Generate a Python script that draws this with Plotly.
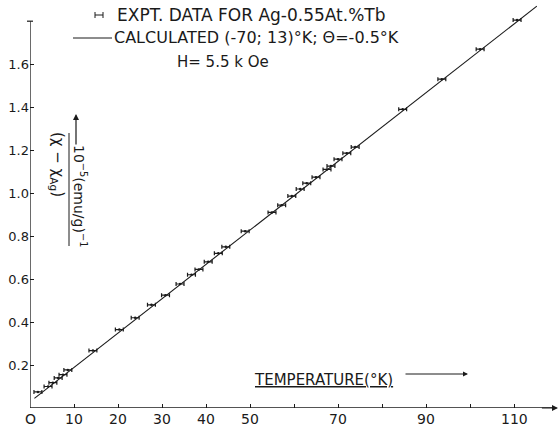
import plotly.graph_objects as go

# ---- data ----
expt_T = [1.8, 4.1, 5.2, 6.4, 7.5, 8.6, 14.3, 20.3, 23.9, 27.6, 30.8, 34.1, 36.7,
          38.4, 40.5, 42.8, 44.5, 48.9, 55.0, 57.2, 59.5, 61.4, 62.9, 65.0, 67.5,
          68.4, 70.0, 72.0, 73.9, 84.7, 93.6, 102.3, 110.7]
expt_v = [0.075, 0.10, 0.118, 0.14, 0.155, 0.177, 0.267, 0.365, 0.42, 0.48, 0.525,
          0.577, 0.62, 0.645, 0.68, 0.72, 0.75, 0.823, 0.91, 0.944, 0.986, 1.019,
          1.046, 1.074, 1.11, 1.126, 1.158, 1.186, 1.214, 1.39, 1.53, 1.67, 1.805]
expt_err = [0.9] * len(expt_T)

calc_T = [1.0, 20.0, 40.0, 60.0, 80.0, 100.0, 115.2]
calc_v = [0.045, 0.349, 0.669, 0.989, 1.309, 1.629, 1.87]

x_tickvals = [0, 10, 20, 30, 40, 50, 60, 70, 80, 90, 100, 110]
x_ticktext = ["O", "10", "20", "30", "40", "50", "", "70", "", "90", "", "110"]
y_tickvals = [0.2, 0.4, 0.6, 0.8, 1.0, 1.2, 1.4, 1.6]
y_ticktext = ["0.2", "0.4", "0.6", "0.8", "1.0", "1.2", "1.4", "1.6"]

legend_expt = "EXPT. DATA FOR Ag-0.55At.%Tb"
legend_calc = "CALCULATED (-70; 13)°K; Θ=-0.5°K"
field_text = "H= 5.5 k Oe"
x_title = "<u>TEMPERATURE(°K)</u>"
y_title_num = "10<sup>−5</sup>(emu/g)<sup>−1</sup>"
y_title_den = "(χ − χ<sub>Ag</sub>)"

# ---- layout geometry (pixels) ----
W, H = 560, 429
ML, MR, MT, MB = 30, 2, 4, 21
XR = [0, 120]
YR = [0, 1.88]
PW, PH = W - ML - MR, H - MT - MB


def px(x):
    return (x - ML) / PW


def py(y):
    return (H - MB - y) / PH


FONT = "DejaVu Sans"
INK = "#1a1a1a"

fig = go.Figure()

fig.add_trace(go.Scatter(
    x=calc_T, y=calc_v, mode="lines",
    line=dict(color=INK, width=1.1), hoverinfo="skip", showlegend=False,
    cliponaxis=False))

fig.add_trace(go.Scatter(
    x=expt_T, y=expt_v, mode="markers",
    marker=dict(color=INK, size=2.5),
    error_x=dict(type="data", array=expt_err, symmetric=True,
                 color=INK, thickness=1.2, width=2),
    showlegend=False))

shapes = []
# y axis line ending at 1.8 with a small cap
shapes.append(dict(type="line", xref="x", yref="y", x0=0, x1=0, y0=0, y1=1.8,
                   line=dict(color=INK, width=1.3)))
shapes.append(dict(type="line", xref="paper", yref="y", x0=px(27), x1=px(33),
                   y0=1.8, y1=1.8, line=dict(color=INK, width=1.2)))
# x axis line
shapes.append(dict(type="line", xref="x", yref="y", x0=0, x1=119.5, y0=0, y1=0,
                   line=dict(color=INK, width=1.3)))
# legend sample for calculated line
shapes.append(dict(type="line", xref="paper", yref="paper", x0=px(73), x1=px(112),
                   y0=py(38), y1=py(38), line=dict(color=INK, width=1)))
# legend sample for expt data (small error bar)
shapes.append(dict(type="line", xref="paper", yref="paper", x0=px(95), x1=px(103),
                   y0=py(15), y1=py(15), line=dict(color=INK, width=1)))
for xx in (95, 103):
    shapes.append(dict(type="line", xref="paper", yref="paper", x0=px(xx), x1=px(xx),
                       y0=py(12), y1=py(18), line=dict(color=INK, width=1)))
# fraction bar of y title
shapes.append(dict(type="line", xref="paper", yref="paper", x0=px(69), x1=px(69),
                   y0=py(133), y1=py(246), line=dict(color=INK, width=1)))

annotations = []
annotations.append(dict(x=px(115), y=py(15), xref="paper", yref="paper",
                        text=legend_expt, showarrow=False, xanchor="left",
                        yanchor="middle", font=dict(family=FONT, size=17, color=INK)))
annotations.append(dict(x=px(112), y=py(38), xref="paper", yref="paper",
                        text=legend_calc, showarrow=False, xanchor="left",
                        yanchor="middle", font=dict(family=FONT, size=16, color=INK)))
annotations.append(dict(x=px(223), y=py(62), xref="paper", yref="paper",
                        text=field_text, showarrow=False, xanchor="center",
                        yanchor="middle", font=dict(family=FONT, size=15, color=INK)))
# x tick labels (placed below the axis line)
for tv, tt in zip(x_tickvals, x_ticktext):
    if tt:
        annotations.append(dict(x=tv, y=py(419), xref="x", yref="paper",
                                text=tt, showarrow=False, xanchor="center",
                                yanchor="middle",
                                font=dict(family=FONT, size=14, color=INK)))
# x title + arrow
annotations.append(dict(x=px(252), y=py(380), xref="paper", yref="paper",
                        text=x_title, showarrow=False, xanchor="left",
                        yanchor="middle", font=dict(family=FONT, size=15, color=INK)))
annotations.append(dict(x=px(468), y=py(374), ax=-64, ay=0,
                        xref="paper", yref="paper", axref="pixel", ayref="pixel",
                        text="", showarrow=True, arrowhead=2, arrowsize=1,
                        arrowwidth=1, arrowcolor=INK))
# y title (rotated fraction) + arrow
annotations.append(dict(x=px(58), y=py(164), xref="paper", yref="paper",
                        text=y_title_den, showarrow=False, textangle=90,
                        xanchor="center", yanchor="middle",
                        font=dict(family=FONT, size=15, color=INK)))
annotations.append(dict(x=px(80), y=py(196), xref="paper", yref="paper",
                        text=y_title_num, showarrow=False, textangle=90,
                        xanchor="center", yanchor="middle",
                        font=dict(family=FONT, size=14, color=INK)))
annotations.append(dict(x=px(76), y=py(114), ax=0, ay=32,
                        xref="paper", yref="paper", axref="pixel", ayref="pixel",
                        text="", showarrow=True, arrowhead=2, arrowsize=1,
                        arrowwidth=1.2, arrowcolor=INK))
# x axis arrow head
annotations.append(dict(x=120, y=0, ax=116, ay=0, xref="x", yref="y",
                        axref="x", ayref="y", text="", showarrow=True,
                        arrowhead=2, arrowsize=1, arrowwidth=1.2, arrowcolor=INK))

fig.update_layout(
    template="none",
    width=W, height=H,
    margin=dict(l=ML, r=MR, t=MT, b=MB, autoexpand=False),
    paper_bgcolor="white", plot_bgcolor="white",
    shapes=shapes, annotations=annotations,
    showlegend=False,
    xaxis=dict(range=XR, showgrid=False, zeroline=False, showline=False,
               automargin=False, showticklabels=False,
               tickmode="array", tickvals=x_tickvals,
               ticks="inside", ticklen=4, tickcolor=INK, tickwidth=1),
    yaxis=dict(range=YR, showgrid=False, zeroline=False, showline=False,
               automargin=False,
               tickmode="array", tickvals=y_tickvals, ticktext=y_ticktext,
               ticks="inside", ticklen=4, tickcolor=INK, tickwidth=1,
               tickfont=dict(family=FONT, size=13, color=INK)),
)

fig.write_html("out.html",
               config={"displayModeBar": False},
               post_script="document.body.style.margin='0';document.body.style.overflow='hidden';")
